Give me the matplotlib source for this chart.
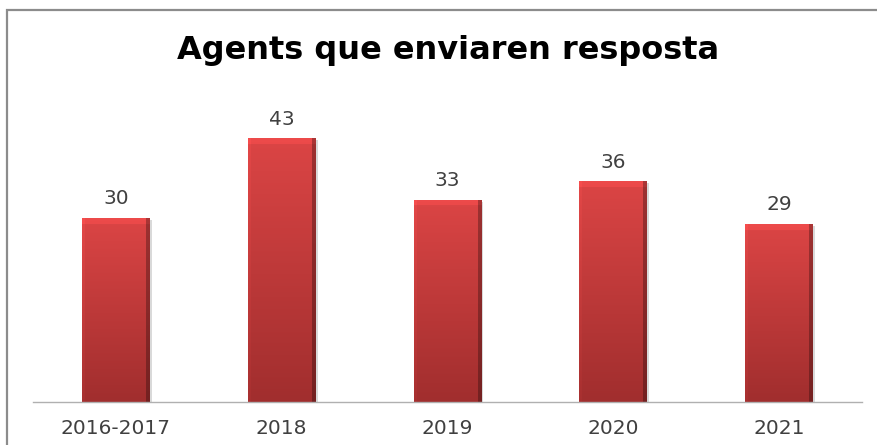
import numpy as np
import matplotlib
matplotlib.use("Agg")
import matplotlib.pyplot as plt
from matplotlib.patches import Rectangle

# === Data ===
categories = ["2016-2017", "2018", "2019", "2020", "2021"]
values = [30, 43, 33, 36, 29]

W, H = 878, 445
fig = plt.figure(figsize=(W / 100, H / 100), dpi=100)
fig.patch.set_facecolor("white")

# outer frame (right and bottom edges fall outside the picture)
fig.patches.append(Rectangle((7 / W, -5 / H), (W + 10) / W, (H - 10 + 5) / H,
                             transform=fig.transFigure, fill=False,
                             edgecolor="#8c8c8c", linewidth=1.6))

ax = fig.add_axes([33 / W, (H - 402) / H, (862 - 33) / W, (402 - 95.5) / H])
ax.set_xlim(-0.5, len(categories) - 0.5)
ax.set_ylim(0, 50)
x = np.arange(len(categories))
bw = 0.41

bars = ax.bar(x, values, width=bw, color="#c83b3b", zorder=2)

# gradient / bevel fill for each bar
def bar_image(nh, nw=68):
    t = np.linspace(0, 1, nh)[:, None]
    top = np.array([0.86, 0.27, 0.27])
    bot = np.array([0.63, 0.18, 0.18])
    img = top * (1 - t[..., None]) + bot * t[..., None]
    img = np.repeat(img, nw, axis=1)
    img[:6] = np.clip(img[:6] * 1.08, 0, 1)   # top bevel
    img[:, -4:] *= 0.72                       # darker right edge
    img[:, :3] *= 1.04
    return np.clip(img, 0, 1)

for b, v in zip(bars, values):
    x0 = b.get_x()
    # faint shadow
    ax.add_patch(Rectangle((x0 + 0.012, 0), bw, v - 0.3, color="#000000",
                           alpha=0.15, zorder=1, linewidth=0))
    im = ax.imshow(bar_image(int(v * 6.13)), extent=(x0, x0 + bw, 0, v),
                   aspect="auto", zorder=3, interpolation="bilinear")
    im.set_clip_path(b)
    ax.text(b.get_x() + bw / 2, v + 1.6, str(v), ha="center", va="bottom",
            fontsize=14.5, color="#404040", family="DejaVu Sans")

ax.set_xticks(x)
ax.set_xticklabels(categories, fontsize=14.5, color="#404040", family="DejaVu Sans")
ax.tick_params(axis="x", length=0, pad=12)
ax.set_yticks([])
for s in ["top", "right", "left"]:
    ax.spines[s].set_visible(False)
ax.spines["bottom"].set_color("#b0b0b0")
ax.spines["bottom"].set_linewidth(1)
ax.spines["bottom"].set_zorder(4)
ax.set_facecolor("none")

fig.text(448 / W, 1 - 51 / H, "Agents que enviaren resposta", ha="center",
         va="center", fontsize=23, fontweight="bold", family="DejaVu Sans",
         color="black")

fig.savefig("out.png", dpi=100)
